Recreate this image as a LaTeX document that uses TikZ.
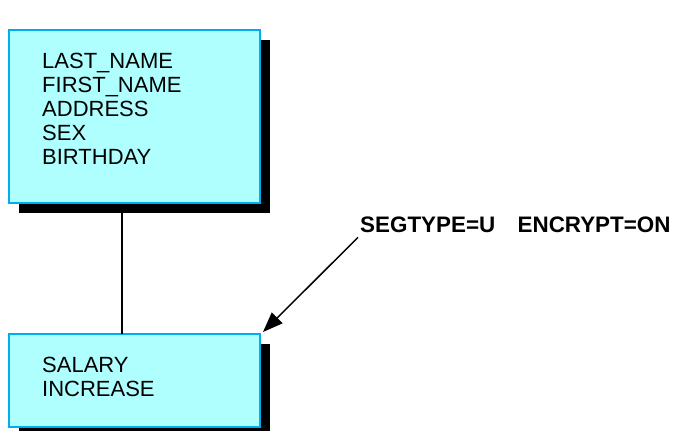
\documentclass[tikz,border=0pt]{standalone}
\usepackage{fontspec}
\setmainfont{Liberation Sans}
\usetikzlibrary{shadows,arrows.meta}
\definecolor{segfill}{RGB}{176,255,255}

\begin{document}
\begin{tikzpicture}[x=1pt,y=-1pt,
  segbox/.style={draw=cyan, line width=1.5pt, fill=segfill, minimum width=251pt,
    inner sep=0pt, outer sep=0pt, anchor=north west,
    drop shadow={shadow xshift=10pt, shadow yshift=-10pt, fill=black, opacity=1}},
  campos/.style={anchor=north west, inner sep=0pt, align=left,
    font=\fontsize{22}{24}\selectfont}]
  % Marco
  \useasboundingbox (0,0) rectangle (673,431);

  % Segmento padre
  \node[segbox, minimum height=173pt] (raiz) at (9,30) {};
  \node[campos] (camposraiz) at (42,53) {LAST\_NAME\\FIRST\_NAME\\ADDRESS\\SEX\\BIRTHDAY};

  % Segmento hijo
  \node[segbox, minimum height=93pt] (dep) at (9,334) {};
  \node[campos] (camposdep) at (42,357) {SALARY\\INCREASE};

  % Enlace padre-hijo
  \draw[line width=1.2pt] ([xshift=113pt,yshift=-10pt]raiz.south west) -- ([xshift=113pt]dep.north west);

  % Atributos del segmento
  \node[anchor=base west, inner sep=0pt, font=\bfseries\fontsize{22.4}{24}\selectfont] (seg) at (360,232)
    {SEGTYPE=U\hspace{1em}ENCRYPT=ON};
  \draw[line width=1.5pt, -{Triangle[length=20pt,width=15pt]}]
    ([xshift=-2pt,yshift=-5pt]seg.south west) -- ([xshift=3pt,yshift=2pt]dep.north east);
\end{tikzpicture}
\end{document}
